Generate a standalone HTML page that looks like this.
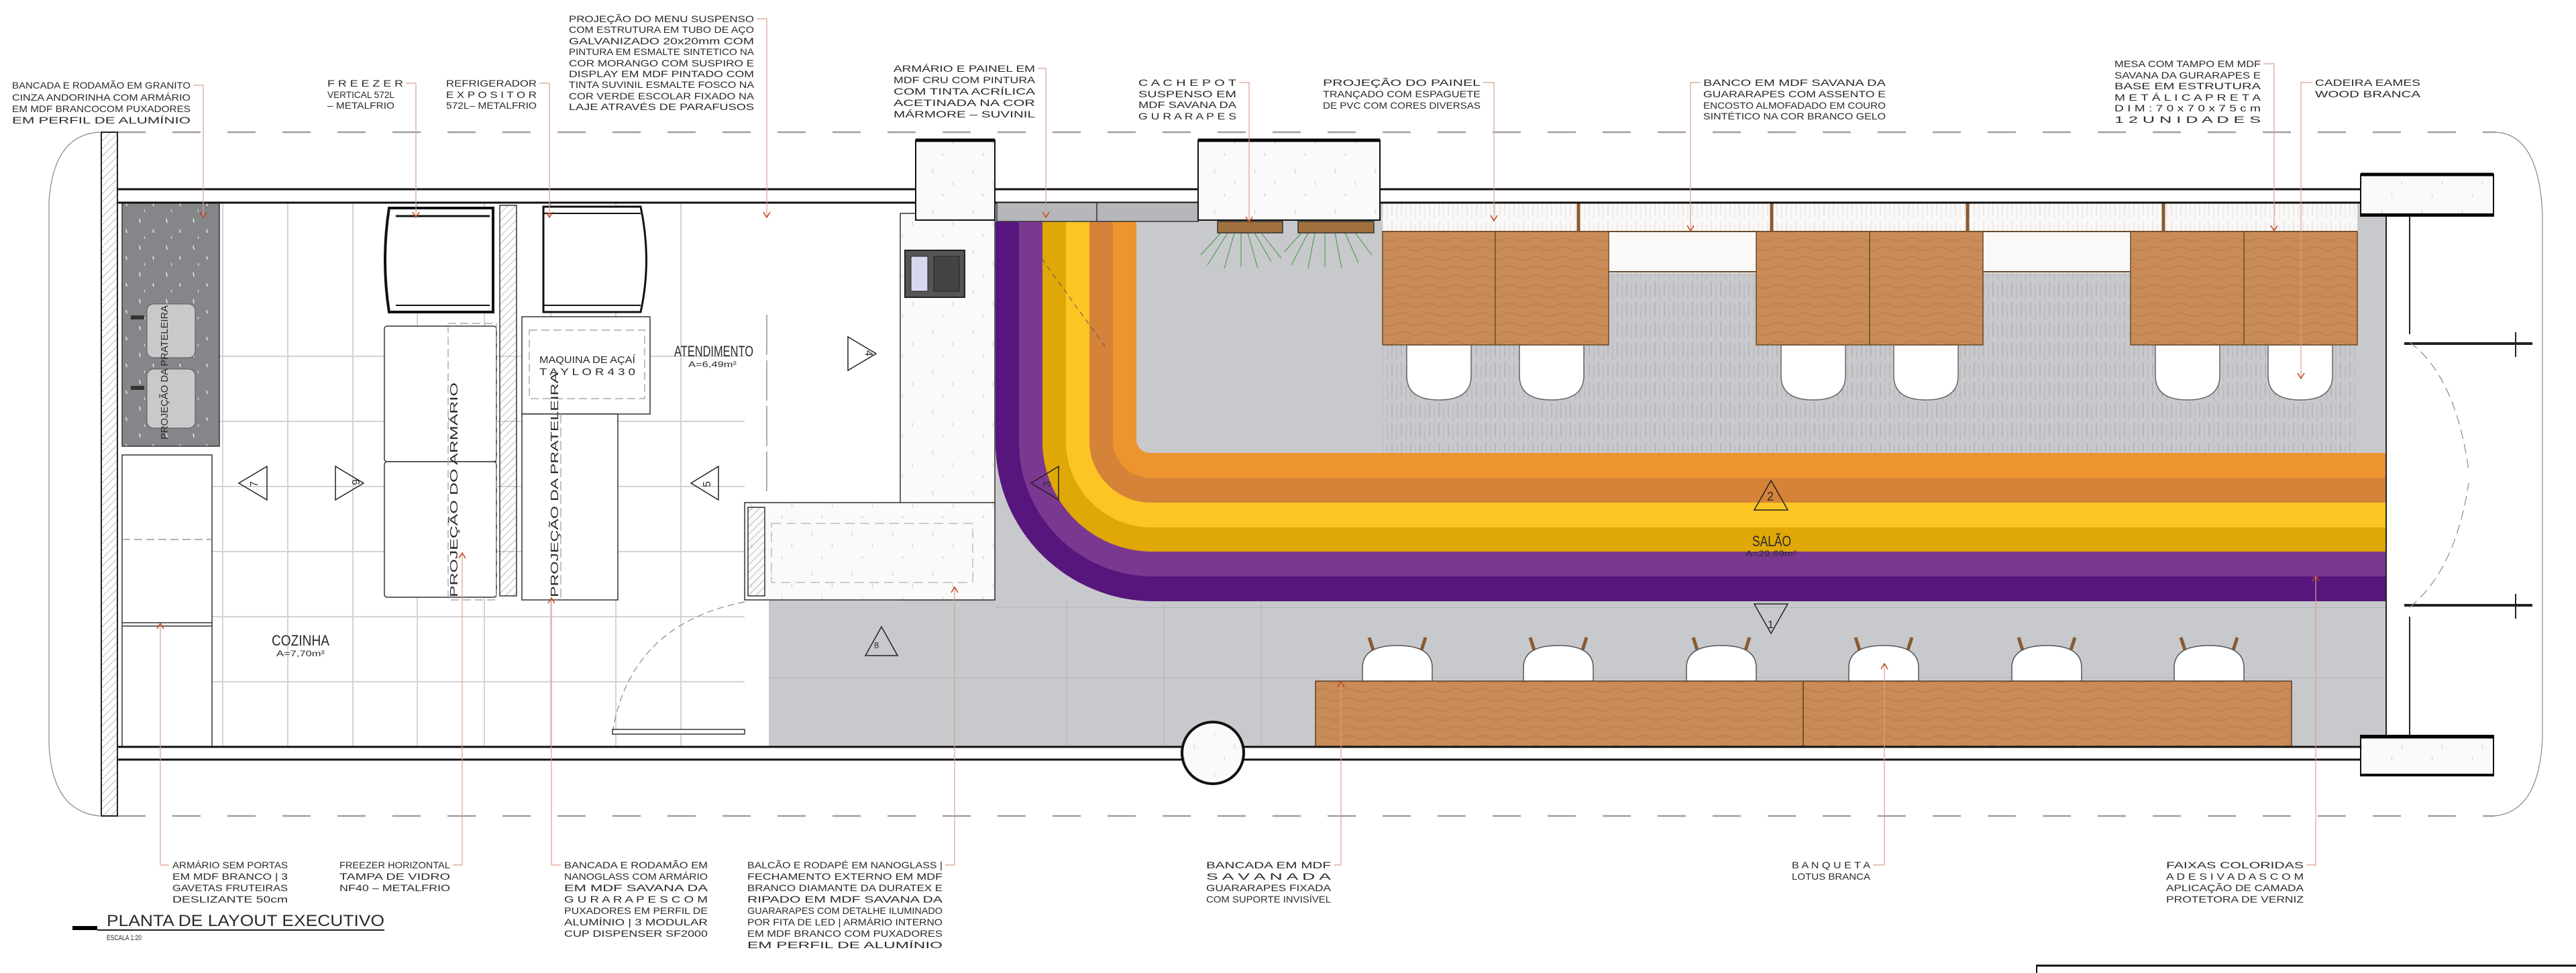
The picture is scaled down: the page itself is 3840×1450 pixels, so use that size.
<!DOCTYPE html>
<html><head><meta charset="utf-8"><style>
html,body{margin:0;padding:0;background:#fff;}
svg{display:block;}
text{font-family:"Liberation Sans Narrow","Liberation Sans",sans-serif;fill:#2a2a2a;}
.lb{font-size:14px;}
</style></head><body>
<svg width="3840" height="1450" viewBox="0 0 3840 1450" xmlns="http://www.w3.org/2000/svg">
<defs>
<pattern id="hatch" width="8" height="8" patternUnits="userSpaceOnUse" patternTransform="rotate(45)"><line x1="0" y1="0" x2="0" y2="8" stroke="#777" stroke-width="1"/></pattern>
<pattern id="vlines" width="14" height="30" patternUnits="userSpaceOnUse"><line x1="3" y1="0" x2="3" y2="22" stroke="#a9aaad" stroke-width="1.2"/><line x1="10" y1="4" x2="10" y2="26" stroke="#b3b4b6" stroke-width="1"/></pattern>
<pattern id="wood" width="40" height="14" patternUnits="userSpaceOnUse"><rect width="40" height="14" fill="#c98c58"/><path d="M0 7 Q10 2 20 7 T40 7" fill="none" stroke="#b57a48" stroke-width="1"/></pattern>
<pattern id="speck" width="60" height="60" patternUnits="userSpaceOnUse"><rect width="60" height="60" fill="#fafafa"/><line x1="10" y1="12" x2="11" y2="18" stroke="#ccc"/><line x1="40" y1="30" x2="41" y2="36" stroke="#ccc"/><line x1="25" y1="48" x2="26" y2="53" stroke="#ccc"/></pattern>
<pattern id="gran" width="40" height="40" patternUnits="userSpaceOnUse"><rect width="40" height="40" fill="#858689"/><line x1="8" y1="6" x2="9" y2="12" stroke="#eee" stroke-width="1.5"/><line x1="28" y1="22" x2="29" y2="27" stroke="#eee" stroke-width="1.5"/><line x1="15" y1="32" x2="16" y2="36" stroke="#ddd" stroke-width="1.2"/></pattern>
</defs>

<!-- border dashed lines -->
<g stroke="#a0a0a0" stroke-width="2.5" fill="none">
<line x1="175" y1="197" x2="3720" y2="197" stroke-dasharray="42 40"/>
<line x1="175" y1="1216" x2="3718" y2="1216" stroke-dasharray="42 40"/>
</g>
<g stroke="#888" stroke-width="1.2" fill="none">
<path d="M149 197 Q80 200 73 300 L73 1110 Q78 1210 149 1216"/>
<path d="M3720 197 Q3785 200 3790 320 L3790 1100 Q3785 1210 3718 1216"/>
</g>

<!-- kitchen floor grid -->
<g stroke="#d4d4d4" stroke-width="2">
<line x1="316" y1="531" x2="1110" y2="531"/><line x1="316" y1="628" x2="1110" y2="628"/><line x1="316" y1="725" x2="1110" y2="725"/><line x1="316" y1="822" x2="1110" y2="822"/><line x1="316" y1="919" x2="1110" y2="919"/><line x1="316" y1="1016" x2="1110" y2="1016"/>
<line x1="429" y1="302" x2="429" y2="1113"/><line x1="526" y1="302" x2="526" y2="1113"/><line x1="622" y1="302" x2="622" y2="1113"/><line x1="722" y1="302" x2="722" y2="1113"/><line x1="821" y1="302" x2="821" y2="1113"/><line x1="918" y1="302" x2="918" y2="1113"/><line x1="1015" y1="302" x2="1015" y2="1113"/><line x1="332" y1="302" x2="332" y2="1113"/>
</g>

<!-- salon gray floor -->
<rect x="1483" y="302" width="2074" height="811" fill="#c8c9cc"/>
<rect x="1146" y="894" width="340" height="219" fill="#c8c9cc"/>
<g stroke="#b9babd" stroke-width="1.5">
<line x1="1146" y1="1010" x2="3557" y2="1010"/><line x1="1483" y1="905" x2="3557" y2="905"/>
<line x1="1590" y1="894" x2="1590" y2="1113"/><line x1="1735" y1="894" x2="1735" y2="1113"/><line x1="1880" y1="894" x2="1880" y2="1113"/>
<line x1="1790" y1="330" x2="1790" y2="675"/><line x1="1935" y1="330" x2="1935" y2="675"/>
</g>

<!-- colored stripes -->
<path d="M1484 330 L1484 660 A236 236 0 0 0 1720 896 L3557 896 L3557 330 Z" fill="#57167d"/>
<path d="M1519 330 L1519 660 A200 200 0 0 0 1720 859 L3557 859 L3557 330 Z" fill="#7a3891"/>
<path d="M1554 330 L1554 660 A164 164 0 0 0 1720 822 L3557 822 L3557 330 Z" fill="#e0a806"/>
<path d="M1589 330 L1589 660 A128 128 0 0 0 1720 786 L3557 786 L3557 330 Z" fill="#fcc523"/>
<path d="M1624 330 L1624 660 A92 92 0 0 0 1720 749 L3557 749 L3557 330 Z" fill="#d6833a"/>
<path d="M1659 330 L1659 660 A56 56 0 0 0 1720 712 L3557 712 L3557 330 Z" fill="#ee942e"/>
<path d="M1694 330 L1694 655 A20 20 0 0 0 1714 675 L3557 675 L3557 330 Z" fill="#c8c9cc"/>
<line x1="1520" y1="340" x2="1650" y2="520" stroke="#555" stroke-width="1" stroke-dasharray="8 6"/>

<!-- salon seating hatched floor -->
<rect x="2061" y="407" width="1453" height="268" fill="url(#vlines)"/>
<!-- top bench white -->
<rect x="2061" y="302" width="1453" height="43" fill="#fbf9f7"/>
<rect x="2398" y="345" width="220" height="62" fill="#fbf9f7"/>
<rect x="2956" y="345" width="220" height="62" fill="#fbf9f7"/>
<rect x="2061" y="302" width="1453" height="43" fill="url(#vlines)" opacity="0.35"/>
<g stroke="#6b4a2a" stroke-width="2"><line x1="2061" y1="345" x2="3514" y2="345"/><line x1="2398" y1="405" x2="2618" y2="405"/><line x1="2956" y1="405" x2="3176" y2="405"/></g>
<g stroke="#8a5a30" stroke-width="5"><line x1="2353" y1="302" x2="2353" y2="345"/><line x1="2641" y1="302" x2="2641" y2="345"/><line x1="2933" y1="302" x2="2933" y2="345"/><line x1="3225" y1="302" x2="3225" y2="345"/></g>

<!-- chairs top -->
<g fill="#fff" stroke="#666" stroke-width="1.5">
<path d="M2097 514 L2097 560 Q2097 596 2145 596 Q2193 596 2193 560 L2193 514 Z"/>
<path d="M2265 514 L2265 560 Q2265 596 2313 596 Q2361 596 2361 560 L2361 514 Z"/>
<path d="M2655 514 L2655 560 Q2655 596 2703 596 Q2751 596 2751 560 L2751 514 Z"/>
<path d="M2823 514 L2823 560 Q2823 596 2871 596 Q2919 596 2919 560 L2919 514 Z"/>
<path d="M3213 514 L3213 560 Q3213 596 3261 596 Q3309 596 3309 560 L3309 514 Z"/>
<path d="M3381 514 L3381 560 Q3381 596 3429 596 Q3477 596 3477 560 L3477 514 Z"/>
</g>
<!-- tables -->
<g stroke="#6b4a2a" stroke-width="1.5">
<rect x="2061" y="345" width="337" height="169" fill="url(#wood)"/><line x1="2229" y1="345" x2="2229" y2="514"/>
<rect x="2618" y="345" width="338" height="169" fill="url(#wood)"/><line x1="2787" y1="345" x2="2787" y2="514"/>
<rect x="3176" y="345" width="338" height="169" fill="url(#wood)"/><line x1="3345" y1="345" x2="3345" y2="514"/>
</g>

<!-- bottom bench and stools -->
<g stroke="#8a5a30" stroke-width="5">
<line x1="2041" y1="950" x2="2050" y2="978"/><line x1="2125" y1="950" x2="2116" y2="978"/>
<line x1="2281" y1="950" x2="2290" y2="978"/><line x1="2365" y1="950" x2="2356" y2="978"/>
<line x1="2524" y1="950" x2="2533" y2="978"/><line x1="2608" y1="950" x2="2599" y2="978"/>
<line x1="2766" y1="950" x2="2775" y2="978"/><line x1="2850" y1="950" x2="2841" y2="978"/>
<line x1="3009" y1="950" x2="3018" y2="978"/><line x1="3093" y1="950" x2="3084" y2="978"/>
<line x1="3251" y1="950" x2="3260" y2="978"/><line x1="3335" y1="950" x2="3326" y2="978"/>
</g>
<g fill="#fff" stroke="#555" stroke-width="1.5">
<path d="M2031 1015 L2031 995 Q2031 962 2083 962 Q2135 962 2135 995 L2135 1015 Z"/>
<path d="M2271 1015 L2271 995 Q2271 962 2323 962 Q2375 962 2375 995 L2375 1015 Z"/>
<path d="M2514 1015 L2514 995 Q2514 962 2566 962 Q2618 962 2618 995 L2618 1015 Z"/>
<path d="M2756 1015 L2756 995 Q2756 962 2808 962 Q2860 962 2860 995 L2860 1015 Z"/>
<path d="M2999 1015 L2999 995 Q2999 962 3051 962 Q3103 962 3103 995 L3103 1015 Z"/>
<path d="M3241 1015 L3241 995 Q3241 962 3293 962 Q3345 962 3345 995 L3345 1015 Z"/>
</g>
<rect x="1961" y="1015" width="1455" height="98" fill="url(#wood)" stroke="#5a3d22" stroke-width="1.5"/>
<line x1="2688" y1="1015" x2="2688" y2="1113" stroke="#5a3d22" stroke-width="1.5"/>

<!-- atendimento counter -->
<rect x="1342" y="318" width="141" height="576" fill="url(#speck)" stroke="#333" stroke-width="1.5"/>
<rect x="1110" y="749" width="373" height="145" fill="url(#speck)" stroke="#333" stroke-width="1.5"/>
<rect x="1343" y="750" width="139" height="143" fill="url(#speck)"/>
<rect x="1150" y="780" width="300" height="88" fill="none" stroke="#bbb" stroke-width="1.5" stroke-dasharray="14 8"/>
<rect x="1115" y="756" width="25" height="132" fill="url(#hatch)" stroke="#333" stroke-width="1.5"/>
<line x1="1143" y1="469" x2="1143" y2="732" stroke="#777" stroke-width="1.2" stroke-dasharray="60 8"/>
<!-- coffee machine -->
<rect x="1349" y="373" width="89" height="70" fill="#555" stroke="#222" stroke-width="2"/>
<rect x="1358" y="382" width="25" height="52" fill="#d7d7ee" stroke="#222"/>
<rect x="1392" y="382" width="38" height="52" fill="#444" stroke="#222"/>

<!-- door kitchen -->
<path d="M1110 897 Q940 930 913 1091" fill="none" stroke="#888" stroke-width="1.2" stroke-dasharray="10 6"/>
<rect x="913" y="1087" width="197" height="7" fill="#fff" stroke="#333" stroke-width="1.5"/>

<!-- kitchen furniture -->
<rect x="182" y="302" width="145" height="363" fill="url(#gran)" stroke="#333" stroke-width="1.5"/>
<rect x="219" y="453" width="72" height="80" rx="10" fill="#c9c9cb" stroke="#555"/>
<rect x="219" y="550" width="72" height="88" rx="10" fill="#c9c9cb" stroke="#555"/>
<rect x="195" y="470" width="20" height="6" fill="#333"/><rect x="195" y="575" width="20" height="6" fill="#333"/>
<text x="0" y="0" font-size="15" transform="translate(250 655) rotate(-90)" textLength="200" lengthAdjust="spacingAndGlyphs">PROJEÇÃO  DA  PRATELEIRA</text>
<rect x="182" y="678" width="134" height="435" fill="#fff" stroke="#333" stroke-width="1.5"/>
<line x1="182" y1="804" x2="316" y2="804" stroke="#999" stroke-width="1.5" stroke-dasharray="12 6"/>
<line x1="182" y1="928" x2="316" y2="928" stroke="#333" stroke-width="1.5"/><line x1="182" y1="933" x2="316" y2="933" stroke="#333" stroke-width="1.5"/>

<!-- freezer vertical -->
<path d="M580 310 L735 310 L735 465 L580 465 Q568 388 580 310 Z" fill="#fff" stroke="#111" stroke-width="4"/>
<line x1="590" y1="322" x2="730" y2="322" stroke="#111" stroke-width="3"/>
<line x1="590" y1="455" x2="730" y2="455" stroke="#111" stroke-width="2"/>
<!-- shelf -->
<rect x="745" y="306" width="25" height="582" fill="url(#hatch)" stroke="#333" stroke-width="1.5"/>
<!-- refrigerator -->
<path d="M810 308 L955 308 Q972 388 955 465 L810 465 Z" fill="#fff" stroke="#111" stroke-width="3"/>
<line x1="810" y1="318" x2="955" y2="318" stroke="#111" stroke-width="2"/>
<line x1="810" y1="455" x2="955" y2="455" stroke="#111" stroke-width="2"/>
<!-- freezer horizontal -->
<rect x="573" y="486" width="167" height="202" rx="4" fill="#fff" stroke="#333" stroke-width="1.5"/>
<rect x="573" y="688" width="167" height="202" rx="4" fill="#fff" stroke="#333" stroke-width="1.5"/>
<rect x="668" y="482" width="72" height="412" fill="none" stroke="#999" stroke-width="1.2" stroke-dasharray="12 6"/>
<text transform="translate(682 890) rotate(-90)" font-size="16" textLength="320" lengthAdjust="spacingAndGlyphs">PROJEÇÃO  DO  ARMÁRIO</text>
<!-- acai -->
<rect x="778" y="472" width="191" height="145" fill="#fff" stroke="#333" stroke-width="1.5"/>
<rect x="789" y="492" width="172" height="102" fill="none" stroke="#999" stroke-width="1.2" stroke-dasharray="12 6"/>
<text x="804" y="541" font-size="15" textLength="143" lengthAdjust="spacingAndGlyphs">MAQUINA DE AÇAÍ</text>
<text x="804" y="559" font-size="15" textLength="143" lengthAdjust="spacingAndGlyphs">T A Y L O R   4 3 0</text>
<rect x="778" y="617" width="143" height="277" fill="#fff" stroke="#333" stroke-width="1.5"/>
<line x1="836" y1="617" x2="836" y2="894" stroke="#999" stroke-width="1.2" stroke-dasharray="14 6"/>
<text transform="translate(832 890) rotate(-90)" font-size="16" textLength="335" lengthAdjust="spacingAndGlyphs">PROJEÇÃO  DA  PRATELEIRA</text>

<!-- walls -->
<rect x="151" y="197" width="24" height="1019" fill="url(#hatch)" stroke="#222" stroke-width="2"/>
<g stroke="#111" stroke-width="3">
<line x1="175" y1="282" x2="1365" y2="282"/><line x1="1483" y1="282" x2="1786" y2="282"/><line x1="2057" y1="282" x2="3519" y2="282"/>
<line x1="175" y1="302" x2="3519" y2="302"/>
<line x1="175" y1="1113" x2="3519" y2="1113"/><line x1="175" y1="1132" x2="3519" y2="1132"/>
</g>
<rect x="1486" y="302" width="300" height="28" fill="#b6b7ba" stroke="#333" stroke-width="1.5"/>
<line x1="1635" y1="302" x2="1635" y2="330" stroke="#333" stroke-width="1.5"/>
<!-- pillars -->
<rect x="1365" y="209" width="118" height="119" fill="url(#speck)" stroke="#111" stroke-width="2"/><line x1="1365" y1="209" x2="1483" y2="209" stroke="#000" stroke-width="5"/>
<rect x="1786" y="209" width="271" height="119" fill="url(#speck)" stroke="#111" stroke-width="2"/><line x1="1786" y1="209" x2="2057" y2="209" stroke="#000" stroke-width="5"/>
<rect x="3519" y="260" width="198" height="62" fill="url(#speck)" stroke="#111" stroke-width="2"/><line x1="3519" y1="260" x2="3717" y2="260" stroke="#000" stroke-width="5"/><line x1="3519" y1="320" x2="3717" y2="320" stroke="#000" stroke-width="4"/>
<rect x="3519" y="1096" width="198" height="60" fill="url(#speck)" stroke="#111" stroke-width="2"/><line x1="3519" y1="1098" x2="3717" y2="1098" stroke="#000" stroke-width="5"/><line x1="3519" y1="1155" x2="3717" y2="1155" stroke="#000" stroke-width="4"/>
<circle cx="1808" cy="1122" r="46" fill="url(#speck)" stroke="#111" stroke-width="4"/>
<!-- planters -->
<g stroke="#3a9a3a" stroke-width="1" fill="none">
<path d="M1830 347 L1800 395 M1840 347 L1825 400 M1850 347 L1850 398 M1860 347 L1875 400 M1870 347 L1895 390 M1880 347 L1910 385 M1820 347 L1790 380"/>
<path d="M1950 347 L1925 395 M1960 347 L1950 400 M1975 347 L1975 398 M1990 347 L2000 400 M2005 347 L2025 392 M2020 347 L2045 380 M1940 347 L1915 375"/>
</g>
<rect x="1815" y="330" width="97" height="17" fill="#a0713f" stroke="#333" stroke-width="1.5"/>
<rect x="1935" y="330" width="113" height="17" fill="#a0713f" stroke="#333" stroke-width="1.5"/>

<!-- right side -->
<g stroke="#222" stroke-width="2">
<line x1="3557" y1="322" x2="3557" y2="1096"/>
<line x1="3592" y1="322" x2="3592" y2="498"/><line x1="3592" y1="919" x2="3592" y2="1096"/>
<line x1="3584" y1="512" x2="3775" y2="512" stroke-width="4"/><line x1="3584" y1="902" x2="3775" y2="902" stroke-width="4"/>
<line x1="3750" y1="495" x2="3750" y2="532"/><line x1="3750" y1="885" x2="3750" y2="922"/>
</g>
<path d="M3592 510 Q3660 560 3680 700 M3592 905 Q3660 850 3680 720" fill="none" stroke="#888" stroke-width="1.2" stroke-dasharray="14 8"/>

<!-- room labels -->
<text x="1005" y="531" font-size="22" textLength="118" lengthAdjust="spacingAndGlyphs">ATENDIMENTO</text>
<text x="1026" y="547" font-size="12" textLength="72" lengthAdjust="spacingAndGlyphs">A=6,49m²</text>
<text x="405" y="962" font-size="22" textLength="86" lengthAdjust="spacingAndGlyphs">COZINHA</text>
<text x="412" y="978" font-size="12" textLength="72" lengthAdjust="spacingAndGlyphs">A=7,70m²</text>
<text x="2612" y="814" font-size="22" textLength="58" lengthAdjust="spacingAndGlyphs">SALÃO</text>
<text x="2602" y="829" font-size="12" textLength="76" lengthAdjust="spacingAndGlyphs">A=29,69m²</text>

<!-- vista markers -->
<g fill="none" stroke="#222" stroke-width="1.5">
<path d="M398 695 L398 745 L356 720 Z"/><path d="M500 695 L500 745 L542 720 Z"/>
<path d="M1071 695 L1071 745 L1030 720 Z"/><path d="M1264 502 L1264 552 L1306 527 Z"/>
<path d="M1578 695 L1578 745 L1537 720 Z"/>
<path d="M1314 934 L1290 977 L1338 977 Z"/>
<path d="M2640 716 L2615 760 L2665 760 Z"/>
<path d="M2615 900 L2665 900 L2640 944 Z"/>
</g>
<g font-size="13">
<text x="1303" y="966">8</text><text x="2634" y="746" font-size="18">2</text><text x="2635" y="936" font-size="16">1</text>
<text transform="translate(384 726) rotate(-90)" font-size="16">7</text>
<text transform="translate(525 714) rotate(90)" font-size="16">6</text>
<text transform="translate(1059 726) rotate(-90)" font-size="16">5</text>
<text transform="translate(1290 522) rotate(90)" font-size="16">4</text>
<text transform="translate(1566 726) rotate(-90)" font-size="16">3</text>
</g>

<!-- leaders -->
<g stroke="#d9a08e" stroke-width="1.2" fill="none">
<path d="M288 127 L303 127 L303 323"/><path d="M605 124 L620 124 L620 323"/><path d="M804 124 L819 124 L819 323"/>
<path d="M1128 28 L1143 28 L1143 323"/><path d="M1547 102 L1559 102 L1559 323"/><path d="M1847 123 L1862 123 L1862 330"/>
<path d="M2211 123 L2227 123 L2227 328"/><path d="M2535 123 L2520 123 L2520 343"/><path d="M3374 95 L3390 95 L3390 343"/>
<path d="M3447 123 L3430 123 L3430 563"/>
<path d="M252 1289 L239 1289 L239 930"/><path d="M675 1289 L689 1289 L689 825"/><path d="M836 1289 L822 1289 L822 892"/>
<path d="M1409 1289 L1423 1289 L1423 876"/><path d="M1988 1289 L1999 1289 L1999 1017"/><path d="M2792 1289 L2809 1289 L2809 990"/>
<path d="M3438 1289 L3452 1289 L3452 859"/>
</g>
<g stroke="#c0441c" stroke-width="1.5" fill="none">
<path d="M298 316 L303 324 L308 316"/><path d="M615 316 L620 324 L625 316"/><path d="M814 316 L819 324 L824 316"/><path d="M1138 316 L1143 324 L1148 316"/>
<path d="M1554 316 L1559 324 L1564 316"/><path d="M1857 323 L1862 331 L1867 323"/><path d="M2222 321 L2227 329 L2232 321"/><path d="M2515 336 L2520 344 L2525 336"/><path d="M3385 336 L3390 344 L3395 336"/><path d="M3425 556 L3430 564 L3435 556"/>
<path d="M234 937 L239 929 L244 937"/><path d="M684 832 L689 824 L694 832"/><path d="M817 899 L822 891 L827 899"/><path d="M1418 883 L1423 875 L1428 883"/><path d="M1994 1024 L1999 1016 L2004 1024"/><path d="M2804 997 L2809 989 L2814 997"/><path d="M3447 866 L3452 858 L3457 866"/>
</g>

<!-- top labels -->
<g class="lb" font-size="14">
<text x="18" y="132" textLength="266" lengthAdjust="spacingAndGlyphs">BANCADA E RODAMÃO EM GRANITO</text>
<text x="18" y="150" textLength="266" lengthAdjust="spacingAndGlyphs">CINZA ANDORINHA COM ARMÁRIO</text>
<text x="18" y="167" textLength="266" lengthAdjust="spacingAndGlyphs">EM MDF BRANCOCOM PUXADORES</text>
<text x="18" y="184" textLength="266" lengthAdjust="spacingAndGlyphs">EM  PERFIL  DE  ALUMÍNIO</text>

<text x="488" y="129" textLength="113" lengthAdjust="spacingAndGlyphs">F R E E Z E R</text>
<text x="488" y="146" textLength="100" lengthAdjust="spacingAndGlyphs">VERTICAL 572L</text>
<text x="488" y="162" textLength="100" lengthAdjust="spacingAndGlyphs">– METALFRIO</text>

<text x="665" y="129" textLength="135" lengthAdjust="spacingAndGlyphs">REFRIGERADOR</text>
<text x="665" y="146" textLength="135" lengthAdjust="spacingAndGlyphs">E X P O S I T O R</text>
<text x="665" y="162" textLength="135" lengthAdjust="spacingAndGlyphs">572L– METALFRIO</text>

<text x="848" y="33" textLength="276" lengthAdjust="spacingAndGlyphs">PROJEÇÃO DO MENU SUSPENSO</text>
<text x="848" y="49" textLength="276" lengthAdjust="spacingAndGlyphs">COM ESTRUTURA EM TUBO DE AÇO</text>
<text x="848" y="66" textLength="276" lengthAdjust="spacingAndGlyphs">GALVANIZADO 20x20mm COM</text>
<text x="848" y="82" textLength="276" lengthAdjust="spacingAndGlyphs">PINTURA EM ESMALTE SINTETICO NA</text>
<text x="848" y="99" textLength="276" lengthAdjust="spacingAndGlyphs">COR MORANGO COM SUSPIRO E</text>
<text x="848" y="115" textLength="276" lengthAdjust="spacingAndGlyphs">DISPLAY EM MDF PINTADO COM</text>
<text x="848" y="131" textLength="276" lengthAdjust="spacingAndGlyphs">TINTA SUVINIL ESMALTE FOSCO NA</text>
<text x="848" y="148" textLength="276" lengthAdjust="spacingAndGlyphs">COR VERDE ESCOLAR FIXADO NA</text>
<text x="848" y="164" textLength="276" lengthAdjust="spacingAndGlyphs">LAJE ATRAVÉS DE  PARAFUSOS</text>

<text x="1332" y="107" textLength="211" lengthAdjust="spacingAndGlyphs">ARMÁRIO E PAINEL EM</text>
<text x="1332" y="124" textLength="211" lengthAdjust="spacingAndGlyphs">MDF CRU COM PINTURA</text>
<text x="1332" y="141" textLength="211" lengthAdjust="spacingAndGlyphs">COM TINTA ACRÍLICA</text>
<text x="1332" y="158" textLength="211" lengthAdjust="spacingAndGlyphs">ACETINADA NA COR</text>
<text x="1332" y="175" textLength="211" lengthAdjust="spacingAndGlyphs">MÁRMORE – SUVINIL</text>

<text x="1697" y="128" textLength="146" lengthAdjust="spacingAndGlyphs">C A C H E P O T</text>
<text x="1697" y="145" textLength="146" lengthAdjust="spacingAndGlyphs">SUSPENSO EM</text>
<text x="1697" y="161" textLength="146" lengthAdjust="spacingAndGlyphs">MDF SAVANA DA</text>
<text x="1697" y="178" textLength="146" lengthAdjust="spacingAndGlyphs">G U R A R A P E S</text>

<text x="1972" y="128" textLength="235" lengthAdjust="spacingAndGlyphs">PROJEÇÃO DO PAINEL</text>
<text x="1972" y="145" textLength="235" lengthAdjust="spacingAndGlyphs">TRANÇADO COM ESPAGUETE</text>
<text x="1972" y="162" textLength="235" lengthAdjust="spacingAndGlyphs">DE PVC COM CORES DIVERSAS</text>

<text x="2539" y="128" textLength="272" lengthAdjust="spacingAndGlyphs">BANCO EM MDF SAVANA DA</text>
<text x="2539" y="145" textLength="272" lengthAdjust="spacingAndGlyphs">GUARARAPES COM ASSENTO E</text>
<text x="2539" y="162" textLength="272" lengthAdjust="spacingAndGlyphs">ENCOSTO ALMOFADADO EM COURO</text>
<text x="2539" y="178" textLength="272" lengthAdjust="spacingAndGlyphs">SINTÉTICO NA COR BRANCO GELO</text>

<text x="3152" y="100" textLength="218" lengthAdjust="spacingAndGlyphs">MESA COM TAMPO EM MDF</text>
<text x="3152" y="117" textLength="218" lengthAdjust="spacingAndGlyphs">SAVANA DA GURARAPES E</text>
<text x="3152" y="133" textLength="218" lengthAdjust="spacingAndGlyphs">BASE EM ESTRUTURA</text>
<text x="3152" y="150" textLength="218" lengthAdjust="spacingAndGlyphs">M E T Á L I C A   P R E T A</text>
<text x="3152" y="166" textLength="218" lengthAdjust="spacingAndGlyphs">D I M : 7 0 x 7 0 x 7 5 c m</text>
<text x="3152" y="183" textLength="218" lengthAdjust="spacingAndGlyphs">1 2   U N I D A D E S</text>

<text x="3451" y="128" textLength="157" lengthAdjust="spacingAndGlyphs">CADEIRA EAMES</text>
<text x="3451" y="145" textLength="157" lengthAdjust="spacingAndGlyphs">WOOD BRANCA</text>
</g>

<!-- bottom labels -->
<g font-size="14">
<text x="257" y="1294" textLength="172" lengthAdjust="spacingAndGlyphs">ARMÁRIO SEM PORTAS</text>
<text x="257" y="1311" textLength="172" lengthAdjust="spacingAndGlyphs">EM MDF BRANCO | 3</text>
<text x="257" y="1328" textLength="172" lengthAdjust="spacingAndGlyphs">GAVETAS FRUTEIRAS</text>
<text x="257" y="1345" textLength="172" lengthAdjust="spacingAndGlyphs">DESLIZANTE 50cm</text>

<text x="506" y="1294" textLength="165" lengthAdjust="spacingAndGlyphs">FREEZER HORIZONTAL</text>
<text x="506" y="1311" textLength="165" lengthAdjust="spacingAndGlyphs">TAMPA DE VIDRO</text>
<text x="506" y="1328" textLength="165" lengthAdjust="spacingAndGlyphs">NF40 – METALFRIO</text>

<text x="841" y="1294" textLength="214" lengthAdjust="spacingAndGlyphs">BANCADA E RODAMÃO EM</text>
<text x="841" y="1311" textLength="214" lengthAdjust="spacingAndGlyphs">NANOGLASS COM ARMÁRIO</text>
<text x="841" y="1328" textLength="214" lengthAdjust="spacingAndGlyphs">EM MDF SAVANA DA</text>
<text x="841" y="1345" textLength="214" lengthAdjust="spacingAndGlyphs">G U R A R A P E S   C O M</text>
<text x="841" y="1362" textLength="214" lengthAdjust="spacingAndGlyphs">PUXADORES EM PERFIL DE</text>
<text x="841" y="1379" textLength="214" lengthAdjust="spacingAndGlyphs">ALUMÍNIO | 3 MODULAR</text>
<text x="841" y="1396" textLength="214" lengthAdjust="spacingAndGlyphs">CUP DISPENSER SF2000</text>

<text x="1114" y="1294" textLength="291" lengthAdjust="spacingAndGlyphs">BALCÃO E RODAPÉ EM NANOGLASS |</text>
<text x="1114" y="1311" textLength="291" lengthAdjust="spacingAndGlyphs">FECHAMENTO EXTERNO EM MDF</text>
<text x="1114" y="1328" textLength="291" lengthAdjust="spacingAndGlyphs">BRANCO DIAMANTE DA DURATEX E</text>
<text x="1114" y="1345" textLength="291" lengthAdjust="spacingAndGlyphs">RIPADO EM MDF SAVANA DA</text>
<text x="1114" y="1362" textLength="291" lengthAdjust="spacingAndGlyphs">GUARARAPES COM DETALHE ILUMINADO</text>
<text x="1114" y="1379" textLength="291" lengthAdjust="spacingAndGlyphs">POR FITA DE LED | ARMÁRIO INTERNO</text>
<text x="1114" y="1396" textLength="291" lengthAdjust="spacingAndGlyphs">EM MDF BRANCO COM  PUXADORES</text>
<text x="1114" y="1413" textLength="291" lengthAdjust="spacingAndGlyphs">EM  PERFIL  DE  ALUMÍNIO</text>

<text x="1798" y="1294" textLength="186" lengthAdjust="spacingAndGlyphs">BANCADA EM MDF</text>
<text x="1798" y="1311" textLength="186" lengthAdjust="spacingAndGlyphs">S A V A N A   D A</text>
<text x="1798" y="1328" textLength="186" lengthAdjust="spacingAndGlyphs">GUARARAPES  FIXADA</text>
<text x="1798" y="1345" textLength="186" lengthAdjust="spacingAndGlyphs">COM SUPORTE INVISÍVEL</text>

<text x="2671" y="1294" textLength="117" lengthAdjust="spacingAndGlyphs">B A N Q U E T A</text>
<text x="2671" y="1311" textLength="117" lengthAdjust="spacingAndGlyphs">LOTUS BRANCA</text>

<text x="3229" y="1294" textLength="205" lengthAdjust="spacingAndGlyphs">FAIXAS COLORIDAS</text>
<text x="3229" y="1311" textLength="205" lengthAdjust="spacingAndGlyphs">A D E S I V A D A S   C O M</text>
<text x="3229" y="1328" textLength="205" lengthAdjust="spacingAndGlyphs">APLICAÇÃO DE CAMADA</text>
<text x="3229" y="1345" textLength="205" lengthAdjust="spacingAndGlyphs">PROTETORA DE VERNIZ</text>
</g>

<!-- title -->
<text x="159" y="1380" font-size="24" textLength="414" lengthAdjust="spacingAndGlyphs" fill="#222">PLANTA DE LAYOUT EXECUTIVO</text>
<rect x="108" y="1380" width="37" height="6" fill="#000"/>
<line x1="145" y1="1386" x2="573" y2="1386" stroke="#222" stroke-width="2"/>
<text x="159" y="1401" font-size="11" textLength="52" lengthAdjust="spacingAndGlyphs">ESCALA 1:20</text>

<!-- bottom-right title block edge -->
<line x1="3035" y1="1439" x2="3840" y2="1439" stroke="#111" stroke-width="3"/>
<line x1="3036" y1="1439" x2="3036" y2="1450" stroke="#111" stroke-width="2"/>
</svg>
</body></html>
